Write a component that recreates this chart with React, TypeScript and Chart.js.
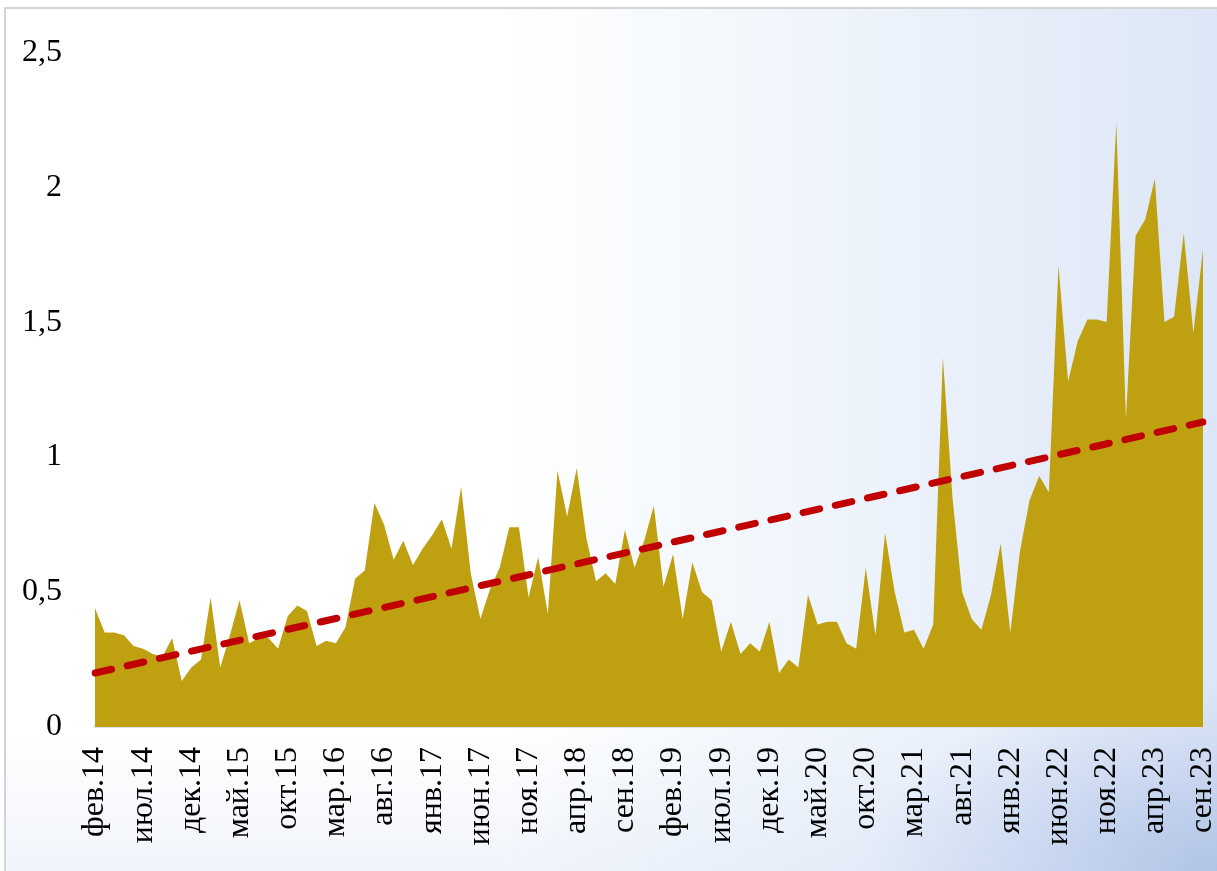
import React, { useEffect, useRef } from "react";
import { Chart, registerables } from "chart.js";

Chart.register(...registerables);

const MONTHS = ["янв", "фев", "мар", "апр", "май", "июн", "июл", "авг", "сен", "окт", "ноя", "дек"];
const START_YEAR = 14;
const START_MONTH = 1; // фев
const COUNT = 116; // фев.14 … сен.23

const CATEGORIES: string[] = [];
for (let i = 0; i < COUNT; i++) {
  const m = (START_MONTH + i) % 12;
  const y = START_YEAR + Math.floor((START_MONTH + i) / 12);
  CATEGORIES.push(`${MONTHS[m]}.${y}`);
}

const LABEL_STEP = 5;

const VALUES: number[] = [
  0.44, 0.35, 0.35, 0.34, 0.30, 0.29, 0.27, 0.26, 0.33, 0.17,
  0.22, 0.25, 0.48, 0.22, 0.34, 0.47, 0.31, 0.33, 0.33, 0.29,
  0.41, 0.45, 0.43, 0.30, 0.32, 0.31, 0.37, 0.55, 0.58, 0.83,
  0.75, 0.62, 0.69, 0.60, 0.66, 0.71, 0.77, 0.66, 0.89, 0.57,
  0.40, 0.51, 0.59, 0.74, 0.74, 0.48, 0.63, 0.42, 0.95, 0.78,
  0.96, 0.70, 0.54, 0.57, 0.53, 0.73, 0.59, 0.69, 0.82, 0.52,
  0.64, 0.40, 0.61, 0.50, 0.47, 0.28, 0.39, 0.27, 0.31, 0.28,
  0.39, 0.20, 0.25, 0.22, 0.49, 0.38, 0.39, 0.39, 0.31, 0.29,
  0.59, 0.34, 0.72, 0.50, 0.35, 0.36, 0.29, 0.38, 1.37, 0.85,
  0.50, 0.40, 0.36, 0.49, 0.68, 0.35, 0.65, 0.84, 0.93, 0.87,
  1.71, 1.28, 1.43, 1.51, 1.51, 1.50, 2.24, 1.14, 1.82, 1.88,
  2.03, 1.50, 1.52, 1.83, 1.46, 1.77,
];

const TREND_START = 0.2;
const TREND_END = 1.13;

const Y_TICKS = [0, 0.5, 1, 1.5, 2, 2.5];

const FONT = "'Liberation Serif', 'Times New Roman', serif";

export default function App() {
  const canvasRef = useRef<HTMLCanvasElement | null>(null);

  useEffect(() => {
    const canvas = canvasRef.current;
    if (!canvas) return;
    const trend = CATEGORIES.map((_, i) =>
      i === 0 ? TREND_START : i === CATEGORIES.length - 1 ? TREND_END : null
    );
    const chart = new Chart(canvas, {
      type: "line",
      data: {
        labels: CATEGORIES,
        datasets: [
          {
            label: "trend",
            data: trend,
            spanGaps: true,
            borderColor: "#C00000",
            borderWidth: 7,
            borderDash: [17, 16],
            borderCapStyle: "round",
            pointRadius: 0,
            fill: false,
          },
          {
            label: "values",
            data: VALUES,
            borderWidth: 0,
            borderColor: "#BFA010",
            backgroundColor: "#BFA010",
            pointRadius: 0,
            fill: "origin",
            tension: 0,
          },
        ],
      },
      options: {
        animation: false,
        responsive: false,
        maintainAspectRatio: false,
        layout: { padding: { left: 0, right: 14, top: 45, bottom: 0 } },
        plugins: {
          legend: { display: false },
          tooltip: { enabled: false },
          title: { display: false },
        },
        scales: {
          x: {
            grid: { display: false, drawTicks: false },
            border: { display: true, color: "#d8dfe8", width: 2 },
            ticks: {
              autoSkip: false,
              minRotation: 90,
              maxRotation: 90,
              padding: 20,
              color: "#000",
              font: { family: FONT, size: 32 },
              callback: (_v: any, i: number) => (i % LABEL_STEP === 0 ? CATEGORIES[i] : ""),
            },
            afterFit: (s: any) => {
              s.height = 144;
              s.paddingLeft = 0;
              s.paddingRight = 0;
            },
          },
          y: {
            min: 0,
            max: 2.5,
            grid: { display: false, drawTicks: false },
            border: { display: false },
            afterBuildTicks: (s: any) => {
              s.ticks = Y_TICKS.map((v) => ({ value: v }));
            },
            ticks: {
              padding: 33,
              color: "#000",
              font: { family: FONT, size: 32 },
              callback: (v: any) => String(v).replace(".", ","),
            },
            afterFit: (s: any) => {
              s.width = 95;
            },
          },
        },
      },
    });
    return () => chart.destroy();
  }, []);

  return (
    <div style={{ position: "absolute", left: 0, top: 0, width: 1217, height: 871, overflow: "hidden" }}>
      <div
        style={{
          position: "absolute",
          left: 4,
          top: 7,
          width: 1240,
          height: 900,
          border: "2px solid #d4d4d4",
          background:
            "radial-gradient(ellipse 360px 190px at 1217px 864px, rgba(150,175,220,0.6), rgba(175,195,232,0.35) 60%, rgba(200,215,240,0) 100%)," +
            "linear-gradient(180deg, rgba(255,255,255,0) 0%, rgba(255,255,255,0) 80%, rgba(195,210,238,0.3) 100%)," +
            "linear-gradient(90deg, #ffffff 0%, #ffffff 40%, #f5f9fd 55%, #ecf2fb 72%, #e3ebf8 88%, #dbe5f6 100%)",
        }}
      />
      <canvas
        ref={canvasRef}
        width={1217}
        height={871}
        style={{ position: "absolute", left: 0, top: 0, width: 1217, height: 871 }}
      />
    </div>
  );
}
